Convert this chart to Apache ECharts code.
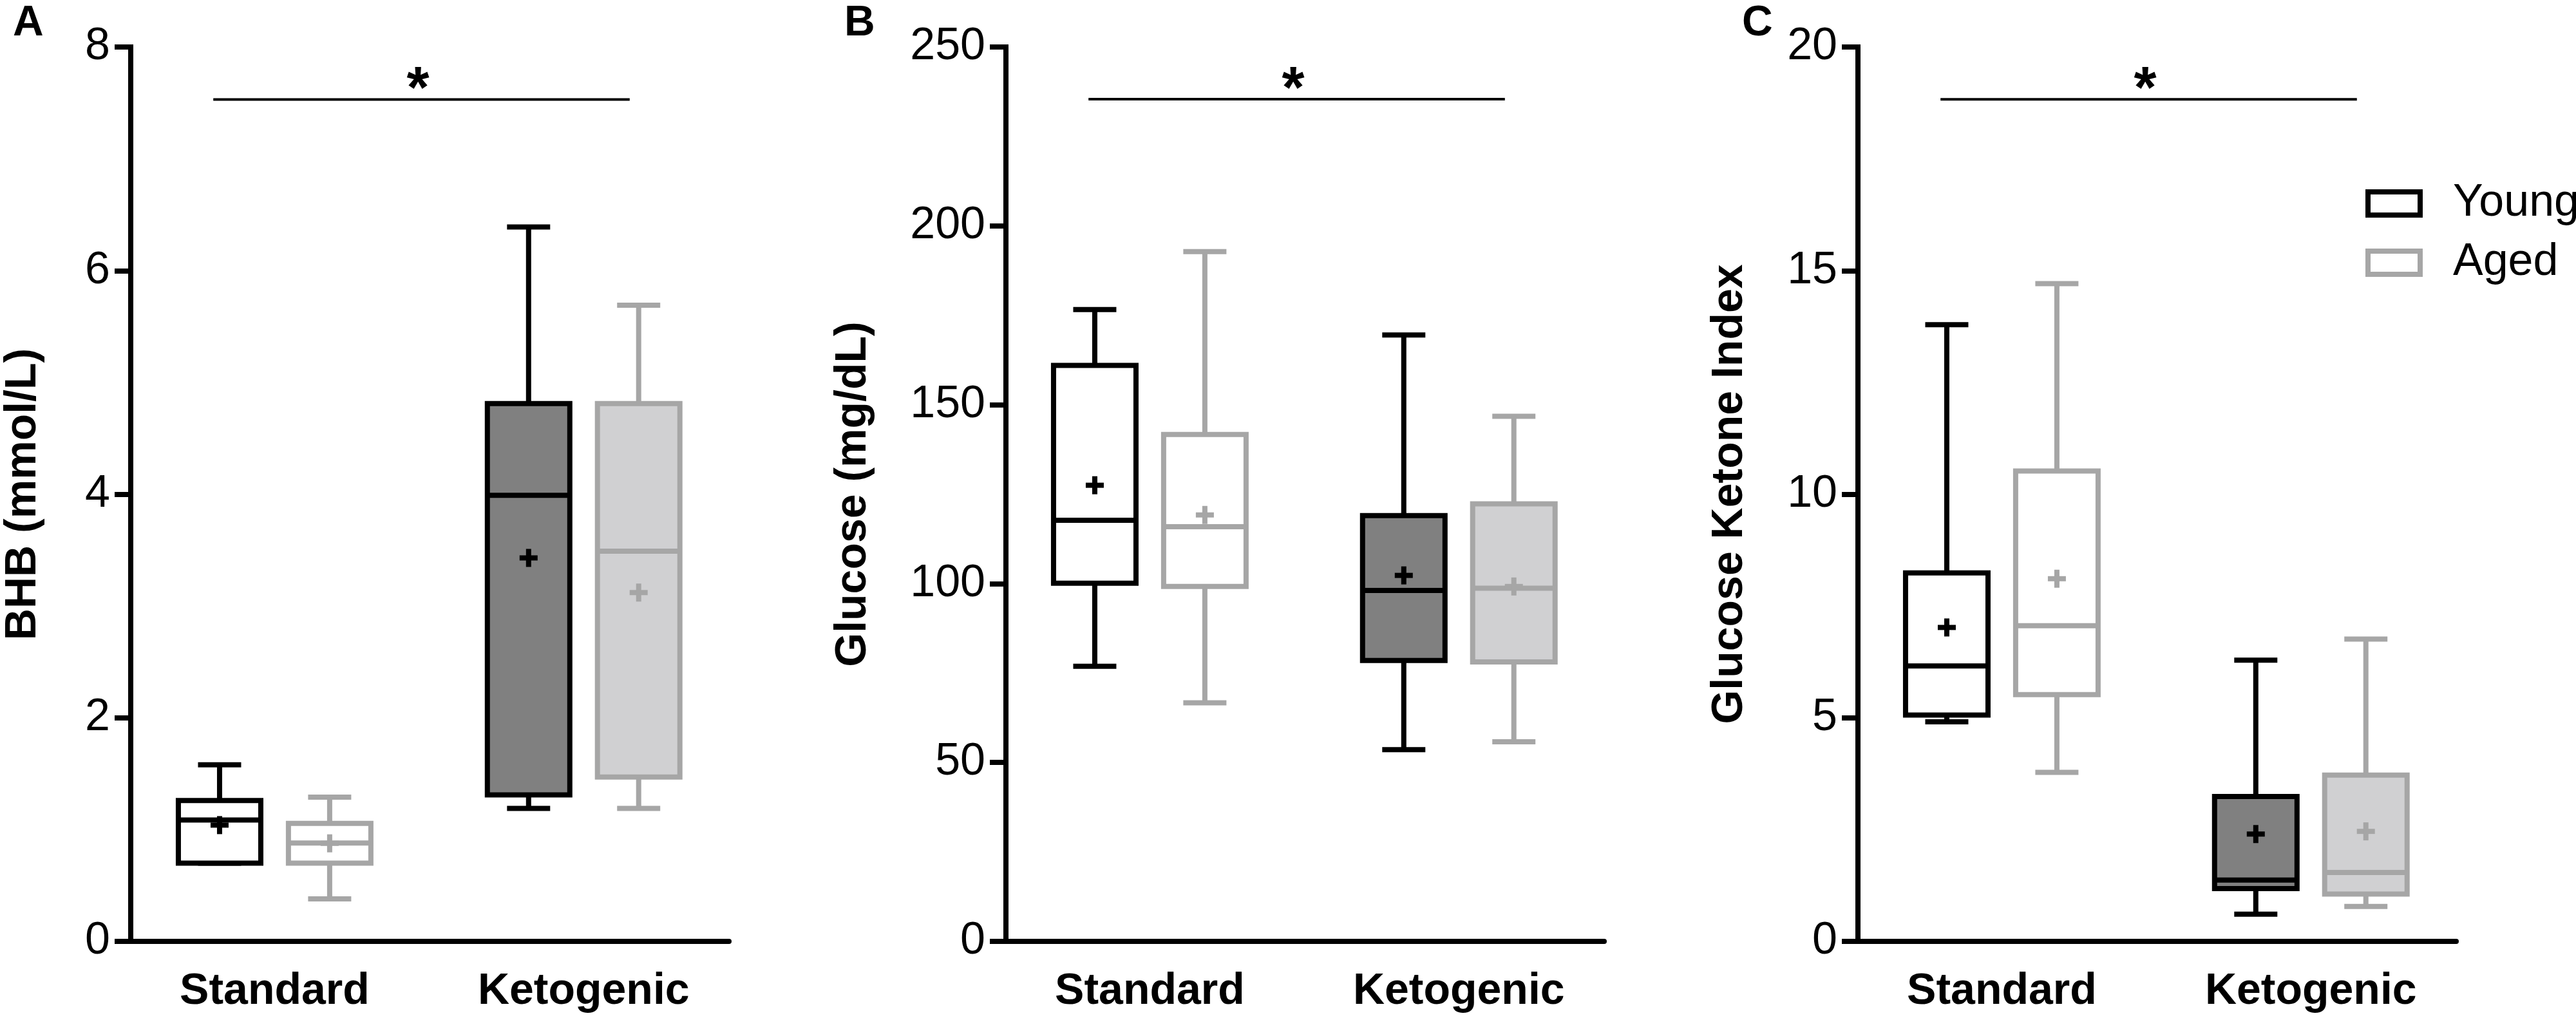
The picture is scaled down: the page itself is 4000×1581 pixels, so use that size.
<!DOCTYPE html>
<html>
<head>
<meta charset="utf-8">
<script src="https://cdn.jsdelivr.net/npm/echarts@6/dist/echarts.min.js"></script>
<style>
html, body { margin: 0; padding: 0; background: #ffffff; }
#chart { width: 4000px; height: 1581px; }
</style>
</head>
<body>
<div id="chart"></div>
<script>
// ---------------- DATA ----------------
const categories = ['Standard', 'Ketogenic'];
const groups = ['Young', 'Aged'];
const panelLetters = ['A', 'B', 'C'];
const yAxisTitles = ['BHB (mmol/L)', 'Glucose (mg/dL)', 'Glucose Ketone Index'];
const yAxisMax = [8, 250, 20];
const yAxisStep = [2, 50, 5];

// box statistics per category: [min, Q1, median, Q3, max]
const bhbYoung = [[0.70, 0.70, 1.085, 1.26, 1.58], [1.19, 1.31, 3.99, 4.81, 6.39]];
const bhbAged = [[0.38, 0.70, 0.88, 1.055, 1.29], [1.19, 1.47, 3.49, 4.81, 5.69]];
const bhbYoungMean = [1.04, 3.43];
const bhbAgedMean = [0.877, 3.12];

const glucoseYoung = [[76.9, 100.1, 117.7, 161.0, 176.6], [53.6, 78.5, 98.1, 119.0, 169.5]];
const glucoseAged = [[66.7, 99.2, 115.9, 141.7, 192.8], [55.8, 78.1, 98.7, 122.3, 146.8]];
const glucoseYoungMean = [127.5, 102.3];
const glucoseAgedMean = [119.2, 99.2];

const gkiYoung = [[4.91, 5.06, 6.16, 8.24, 13.79], [0.61, 1.18, 1.37, 3.24, 6.29]];
const gkiAged = [[3.78, 5.52, 7.06, 10.52, 14.71], [0.78, 1.06, 1.54, 3.72, 6.76]];
const gkiYoungMean = [7.02, 2.40];
const gkiAgedMean = [8.11, 2.46];

// significance bar (Standard vs Ketogenic) height per panel
const sigBarY = [7.53, 235.4, 18.83];
const sigMark = '*';

// ---------------- LAYOUT / STYLE ----------------
const FONT = "'Liberation Sans', Arial, Helvetica, sans-serif";
const GRID_LEFT = [203, 1562, 2885];
const GRID_TOP = 73, GRID_W = 929, GRID_H = 1389;
const NAME_GAP = [133, 203, 165];
const LETTER_LEFT = [20, 1311, 2705];
const GROUP_X = [0.481, 1.514];        // centre of each diet group on a 0..2 axis
const AGE_OFFSET = [-0.184, 0.184];    // young left, aged right
const BOX_W = 0.2756, CAP_W = 0.1442;  // in axis units
const SIG_X = [0.276, 1.668];
const SIG_STAR_X = 0.96;
const LW = 8;
const STROKES = ['#000000', '#a6a6a6'];
const FILLS = [['#ffffff', '#808080'], ['#ffffff', '#d0d0d2']];

const panelStats = [
  [[bhbYoung, bhbYoungMean], [bhbAged, bhbAgedMean]],
  [[glucoseYoung, glucoseYoungMean], [glucoseAged, glucoseAgedMean]],
  [[gkiYoung, gkiYoungMean], [gkiAged, gkiAgedMean]]
];

function boxRenderer(stroke, fills) {
  return function (params, api) {
    const x = api.value(0);
    const pMin = api.coord([x, api.value(1)]);
    const pQ1 = api.coord([x, api.value(2)]);
    const pMed = api.coord([x, api.value(3)]);
    const pQ3 = api.coord([x, api.value(4)]);
    const pMax = api.coord([x, api.value(5)]);
    const pMean = api.coord([x, api.value(6)]);
    const halfBox = api.size([BOX_W, 0])[0] / 2;
    const halfCap = api.size([CAP_W, 0])[0] / 2;
    const cx = pMed[0];
    const ls = { stroke: stroke, lineWidth: LW, fill: null };
    const fill = fills[params.dataIndex];
    return {
      type: 'group',
      children: [
        { type: 'line', shape: { x1: cx, y1: pMax[1], x2: cx, y2: pQ3[1] }, style: ls },
        { type: 'line', shape: { x1: cx, y1: pQ1[1], x2: cx, y2: pMin[1] }, style: ls },
        { type: 'line', shape: { x1: cx - halfCap, y1: pMax[1], x2: cx + halfCap, y2: pMax[1] }, style: ls },
        { type: 'line', shape: { x1: cx - halfCap, y1: pMin[1], x2: cx + halfCap, y2: pMin[1] }, style: ls },
        { type: 'rect', shape: { x: cx - halfBox, y: pQ3[1], width: 2 * halfBox, height: pQ1[1] - pQ3[1] },
          style: { fill: fill, stroke: stroke, lineWidth: LW } },
        { type: 'line', shape: { x1: cx - halfBox, y1: pMed[1], x2: cx + halfBox, y2: pMed[1] }, style: ls },
        { type: 'line', shape: { x1: cx - 14, y1: pMean[1], x2: cx + 14, y2: pMean[1] }, style: ls },
        { type: 'line', shape: { x1: cx, y1: pMean[1] - 14, x2: cx, y2: pMean[1] + 14 }, style: ls }
      ]
    };
  };
}

const grids = [], xAxes = [], yAxes = [], series = [], titles = [];
for (let p = 0; p < 3; p++) {
  grids.push({ left: GRID_LEFT[p], top: GRID_TOP, width: GRID_W, height: GRID_H,
    containLabel: false, outerBoundsMode: 'none' });
  titles.push({ text: panelLetters[p], left: LETTER_LEFT[p], top: 4, padding: 0,
    textStyle: { fontFamily: FONT, fontSize: 66, fontWeight: 'bold', color: '#000', lineHeight: 66 } });
  xAxes.push({
    gridIndex: p, type: 'value', min: 0, max: 2,
    axisLine: { show: true, lineStyle: { color: '#000', width: LW } },
    axisTick: { show: false },
    splitLine: { show: false },
    axisLabel: {
      show: true, customValues: GROUP_X, margin: 44,
      fontFamily: FONT, fontSize: 68, fontWeight: 'bold', color: '#000', lineHeight: 68,
      formatter: function (v) {
        for (let i = 0; i < GROUP_X.length; i++) {
          if (Math.abs(GROUP_X[i] - v) < 1e-6) return categories[i];
        }
        return '';
      }
    }
  });
  yAxes.push({
    gridIndex: p, type: 'value', min: 0, max: yAxisMax[p], interval: yAxisStep[p],
    name: yAxisTitles[p], nameLocation: 'middle', nameGap: NAME_GAP[p],
    nameTextStyle: { fontFamily: FONT, fontSize: 68, fontWeight: 'bold', color: '#000', lineHeight: 68 },
    axisLine: { show: true, lineStyle: { color: '#000', width: LW, cap: 'square' } },
    axisTick: { show: true, inside: false, length: 25, lineStyle: { color: '#000', width: LW } },
    splitLine: { show: false },
    axisLabel: { margin: 32, fontFamily: FONT, fontSize: 70, color: '#000', lineHeight: 70 }
  });
  for (let g = 0; g < 2; g++) {
    const stats = panelStats[p][g][0];
    const means = panelStats[p][g][1];
    const data = categories.map(function (c, i) {
      return [GROUP_X[i] + AGE_OFFSET[g]].concat(stats[i]).concat([means[i]]);
    });
    series.push({
      name: groups[g], type: 'custom', xAxisIndex: p, yAxisIndex: p,
      renderItem: boxRenderer(STROKES[g], FILLS[g]),
      encode: { x: 0, y: [1, 2, 3, 4, 5, 6] },
      itemStyle: { color: '#ffffff', borderColor: STROKES[g], borderWidth: LW },
      data: data, silent: true, clip: false
    });
  }
  series.push({
    name: 'sig' + p, type: 'line', xAxisIndex: p, yAxisIndex: p,
    data: [[SIG_X[0], sigBarY[p]], [SIG_X[1], sigBarY[p]]],
    symbol: 'none', silent: true,
    lineStyle: { color: '#000', width: 4 }
  });
  series.push({
    name: 'star' + p, type: 'scatter', xAxisIndex: p, yAxisIndex: p,
    data: [[SIG_STAR_X, sigBarY[p]]],
    symbolSize: 2, itemStyle: { color: 'rgba(0,0,0,0)' }, silent: true,
    label: { show: true, position: 'inside', offset: [0, -12], formatter: sigMark,
      fontFamily: FONT, fontSize: 90, fontWeight: 'bold', color: '#000', opacity: 1, lineHeight: 90 }
  });
}

const option = {
  animation: false,
  backgroundColor: '#ffffff',
  textStyle: { fontFamily: FONT },
  title: titles,
  legend: {
    orient: 'vertical', left: 3673, top: 281, padding: 0, itemGap: 22,
    itemWidth: 81, itemHeight: 36, selectedMode: false,
    textStyle: { fontFamily: FONT, fontSize: 70, color: '#000', lineHeight: 70, padding: [0, 0, 0, 46] },
    data: [
      { name: groups[0], icon: 'rect', itemStyle: { color: '#ffffff', borderColor: STROKES[0], borderWidth: LW } },
      { name: groups[1], icon: 'rect', itemStyle: { color: '#ffffff', borderColor: STROKES[1], borderWidth: LW } }
    ]
  },
  grid: grids,
  xAxis: xAxes,
  yAxis: yAxes,
  series: series
};

const chart = echarts.init(document.getElementById('chart'), null, { renderer: 'canvas' });
chart.setOption(option);
</script>
</body>
</html>
